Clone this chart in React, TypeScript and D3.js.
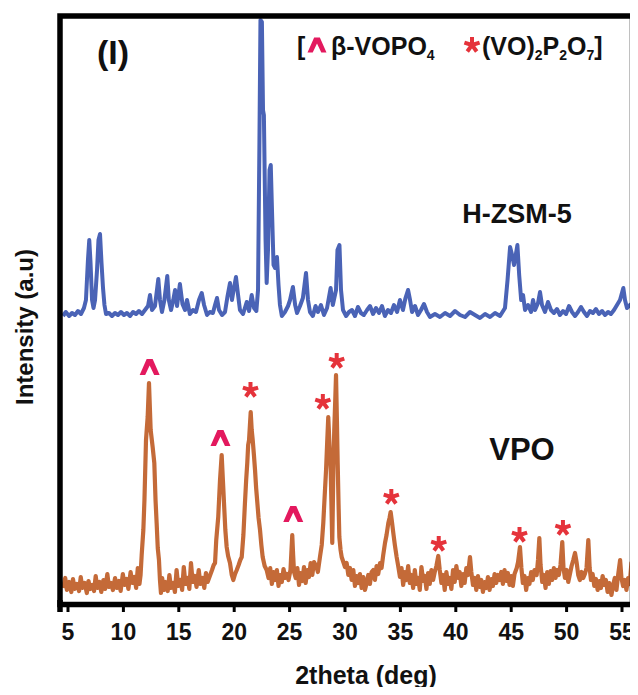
import React, { useEffect, useRef } from 'react';
import * as d3 from 'd3';

// 2theta ticks
const xTicks = [5, 10, 15, 20, 25, 30, 35, 40, 45, 50, 55];

// H-ZSM-5 pattern [2theta, intensity], drawn shifted up by zsmOffset
const zsmOffset = 552;
const zsm5: [number, number][] = [
  [4.55, 20], [4.8, 28], [5.1, 20], [5.36, 26], [5.63, 22], [5.9, 30], [6.17, 24], [6.44, 36],
  [6.62, 52], [6.8, 132], [6.92, 172], [7.03, 128], [7.17, 52], [7.3, 36], [7.44, 52], [7.62, 112],
  [7.75, 172], [7.89, 184], [8.02, 128], [8.16, 76], [8.29, 42], [8.43, 24], [8.7, 26], [8.97, 20],
  [9.24, 26], [9.51, 22], [9.78, 28], [10.05, 22], [10.32, 26], [10.6, 20], [10.87, 28], [11.14, 24],
  [11.4, 30], [11.68, 24], [11.95, 32], [12.22, 40], [12.4, 62], [12.58, 32], [12.85, 40], [13.15, 94],
  [13.3, 52], [13.48, 28], [13.7, 52], [13.96, 100], [14.1, 52], [14.3, 32], [14.5, 52], [14.66, 72],
  [14.84, 40], [15.1, 84], [15.33, 44], [15.56, 32], [15.74, 52], [16.0, 24], [16.28, 32], [16.55, 28],
  [16.82, 52], [17.07, 66], [17.28, 42], [17.55, 22], [17.8, 28], [18.08, 26], [18.27, 42], [18.45, 56],
  [18.63, 32], [18.9, 22], [19.17, 28], [19.4, 60], [19.62, 86], [19.8, 52], [19.98, 76], [20.16, 98],
  [20.35, 62], [20.52, 32], [20.8, 24], [21.13, 48], [21.34, 30], [21.58, 62], [21.79, 36], [22.0, 30],
  [22.15, 72], [22.27, 352], [22.37, 612], [22.5, 608], [22.6, 432], [22.68, 422], [22.83, 172], [22.93, 86],
  [23.05, 152], [23.19, 312], [23.3, 322], [23.41, 232], [23.55, 122], [23.68, 116], [23.86, 138], [24.0, 82],
  [24.13, 42], [24.3, 20], [24.58, 28], [24.86, 40], [25.04, 52], [25.3, 78], [25.5, 42], [25.67, 26],
  [25.94, 40], [26.2, 56], [26.48, 106], [26.66, 52], [26.84, 28], [27.1, 20], [27.34, 40], [27.56, 28],
  [27.83, 42], [28.1, 22], [28.38, 36], [28.7, 76], [28.9, 42], [29.19, 72], [29.32, 152], [29.5, 162],
  [29.64, 72], [29.82, 32], [30.1, 20], [30.36, 28], [30.63, 32], [30.9, 20], [31.17, 38], [31.44, 26],
  [31.7, 22], [31.99, 32], [32.26, 40], [32.53, 24], [32.8, 36], [33.07, 26], [33.34, 40], [33.6, 20],
  [33.88, 32], [34.15, 26], [34.42, 42], [34.7, 28], [34.96, 52], [35.23, 32], [35.46, 56], [35.69, 72],
  [35.87, 52], [36.05, 28], [36.32, 40], [36.59, 22], [36.86, 32], [37.13, 44], [37.4, 28], [37.67, 18],
  [38.12, 24], [38.57, 18], [39.03, 26], [39.48, 20], [39.93, 30], [40.38, 22], [40.83, 18], [41.28, 28],
  [41.73, 22], [42.18, 16], [42.64, 24], [43.09, 18], [43.54, 26], [43.99, 20], [44.44, 36], [44.67, 92],
  [44.9, 158], [45.08, 142], [45.26, 122], [45.56, 162], [45.72, 102], [45.9, 52], [46.07, 62], [46.25, 32],
  [46.52, 42], [46.79, 28], [46.97, 52], [47.15, 32], [47.42, 46], [47.6, 68], [47.78, 42], [48.05, 28],
  [48.32, 48], [48.59, 32], [48.86, 26], [49.13, 34], [49.4, 22], [49.68, 30], [49.95, 24], [50.22, 40],
  [50.49, 28], [50.76, 20], [51.03, 28], [51.3, 38], [51.57, 28], [51.84, 20], [52.11, 30], [52.38, 26],
  [52.65, 34], [52.92, 24], [53.2, 30], [53.47, 22], [53.74, 28], [54.0, 24], [54.28, 32], [54.55, 42],
  [54.82, 52], [55.12, 76], [55.27, 52], [55.45, 36], [55.72, 42], [56.0, 46],
];

// VPO pattern [2theta, intensity]
const vpo: [number, number][] = [
  [4.55, 28], [4.75, 48], [4.9, 24], [5.1, 40], [5.3, 20], [5.45, 46], [5.6, 26], [5.8, 36],
  [6.0, 22], [6.15, 50], [6.3, 28], [6.5, 38], [6.7, 18], [6.85, 42], [7.0, 26], [7.2, 34],
  [7.35, 22], [7.5, 52], [7.65, 28], [7.85, 40], [8.0, 20], [8.2, 44], [8.35, 26], [8.55, 56],
  [8.7, 30], [8.9, 38], [9.05, 24], [9.25, 48], [9.4, 28], [9.6, 42], [9.75, 22], [9.95, 56],
  [10.1, 34], [10.3, 46], [10.45, 26], [10.65, 60], [10.8, 38], [11.0, 50], [11.15, 28], [11.3, 68],
  [11.45, 36], [11.55, 54], [11.65, 94], [11.8, 144], [11.9, 204], [12.04, 324], [12.19, 370], [12.31, 438],
  [12.46, 344], [12.64, 310], [12.79, 278], [12.9, 204], [13.0, 158], [13.1, 108], [13.21, 84], [13.3, 44],
  [13.39, 18], [13.5, 48], [13.65, 24], [13.8, 40], [14.0, 22], [14.15, 54], [14.3, 28], [14.5, 38],
  [14.65, 20], [14.8, 64], [14.95, 32], [15.15, 44], [15.3, 24], [15.45, 70], [15.6, 36], [15.8, 48],
  [15.95, 26], [16.1, 78], [16.25, 40], [16.45, 52], [16.6, 30], [16.8, 64], [16.95, 36], [17.15, 48],
  [17.3, 28], [17.45, 58], [17.6, 40], [17.8, 52], [18.0, 64], [18.15, 74], [18.27, 78], [18.38, 124],
  [18.56, 170], [18.72, 244], [18.87, 294], [18.98, 244], [19.08, 198], [19.2, 144], [19.32, 110], [19.45, 92],
  [19.62, 78], [19.78, 54], [19.92, 44], [20.08, 56], [20.23, 64], [20.4, 74], [20.55, 84], [20.68, 90],
  [20.83, 134], [20.97, 198], [21.08, 244], [21.18, 278], [21.26, 314], [21.34, 324], [21.42, 354], [21.49, 380],
  [21.58, 344], [21.67, 324], [21.78, 294], [21.88, 264], [21.98, 228], [22.09, 198], [22.2, 168], [22.33, 144],
  [22.45, 114], [22.57, 90], [22.75, 72], [22.93, 64], [23.1, 48], [23.25, 68], [23.4, 36], [23.55, 60],
  [23.7, 44], [23.85, 64], [24.0, 32], [24.15, 54], [24.3, 40], [24.45, 66], [24.6, 48], [24.75, 56],
  [24.9, 44], [25.08, 64], [25.17, 104], [25.24, 134], [25.32, 94], [25.4, 60], [25.55, 48], [25.7, 68],
  [25.85, 34], [26.0, 58], [26.15, 42], [26.3, 70], [26.45, 38], [26.6, 64], [26.75, 50], [26.9, 78],
  [27.05, 54], [27.2, 80], [27.4, 72], [27.55, 60], [27.74, 90], [27.9, 114], [28.04, 158], [28.17, 214],
  [28.29, 264], [28.4, 324], [28.49, 370], [28.6, 314], [28.71, 264], [28.85, 118], [28.95, 264], [29.03, 344],
  [29.12, 404], [29.19, 454], [29.27, 364], [29.34, 278], [29.42, 194], [29.49, 130], [29.6, 104], [29.7, 90],
  [29.85, 80], [30.0, 70], [30.15, 78], [30.3, 54], [30.45, 68], [30.6, 44], [30.75, 64], [30.9, 32],
  [31.05, 52], [31.2, 38], [31.35, 56], [31.5, 28], [31.65, 50], [31.8, 24], [31.96, 38], [32.1, 54],
  [32.25, 36], [32.4, 60], [32.55, 64], [32.7, 44], [32.85, 72], [33.0, 56], [33.16, 78], [33.3, 68],
  [33.45, 94], [33.61, 118], [33.75, 134], [33.91, 158], [34.02, 168], [34.12, 180], [34.24, 160], [34.36, 138],
  [34.5, 114], [34.66, 90], [34.8, 72], [34.96, 50], [35.1, 68], [35.25, 34], [35.4, 60], [35.55, 44],
  [35.7, 72], [35.85, 38], [36.0, 54], [36.15, 28], [36.3, 64], [36.45, 36], [36.6, 48], [36.75, 24],
  [36.9, 70], [37.05, 42], [37.2, 52], [37.35, 26], [37.5, 58], [37.65, 36], [37.8, 64], [37.95, 44],
  [38.1, 60], [38.25, 72], [38.42, 92], [38.55, 64], [38.7, 38], [38.85, 54], [39.0, 24], [39.15, 60],
  [39.3, 36], [39.45, 48], [39.6, 26], [39.75, 64], [39.9, 40], [40.05, 72], [40.2, 48], [40.35, 60],
  [40.5, 32], [40.65, 56], [40.8, 38], [40.95, 68], [41.1, 54], [41.28, 90], [41.4, 60], [41.55, 34],
  [41.7, 48], [41.85, 24], [42.0, 52], [42.15, 30], [42.3, 44], [42.45, 20], [42.6, 40], [42.75, 28],
  [42.9, 50], [43.05, 24], [43.2, 46], [43.35, 32], [43.5, 56], [43.65, 38], [43.8, 54], [43.95, 44],
  [44.1, 60], [44.25, 36], [44.4, 64], [44.55, 42], [44.7, 58], [44.85, 34], [45.0, 52], [45.15, 32],
  [45.3, 56], [45.5, 68], [45.62, 80], [45.79, 110], [45.92, 68], [46.05, 38], [46.2, 52], [46.35, 24],
  [46.5, 48], [46.65, 36], [46.8, 60], [46.95, 44], [47.1, 64], [47.3, 54], [47.42, 84], [47.54, 128],
  [47.65, 74], [47.8, 40], [47.95, 54], [48.1, 28], [48.25, 60], [48.4, 36], [48.55, 62], [48.7, 44],
  [48.85, 68], [49.0, 48], [49.15, 64], [49.3, 54], [49.45, 74], [49.61, 120], [49.72, 68], [49.85, 48],
  [50.0, 64], [50.15, 40], [50.3, 56], [50.45, 72], [50.6, 84], [50.76, 98], [50.9, 80], [51.05, 54],
  [51.2, 44], [51.35, 60], [51.5, 48], [51.65, 56], [51.8, 68], [51.96, 124], [52.08, 68], [52.2, 44],
  [52.35, 56], [52.5, 32], [52.65, 46], [52.8, 24], [52.95, 42], [53.1, 28], [53.25, 52], [53.4, 34],
  [53.55, 44], [53.7, 20], [53.85, 38], [54.05, 14], [54.2, 34], [54.35, 48], [54.5, 24], [54.65, 54],
  [54.83, 84], [54.95, 48], [55.1, 32], [55.25, 44], [55.4, 24], [55.55, 48], [55.7, 36], [55.85, 78],
  [56.0, 54],
];

// peak assignments on the VPO pattern [2theta, marker height]
const vopoPeaks: [number, number][] = [[12.37, 470], [18.76, 328], [25.33, 176]];
const pyroPeaks: [number, number][] = [
  [21.47, 424], [28.0, 400], [29.25, 482], [34.18, 210], [38.46, 116], [45.75, 134], [49.67, 148],
];

const FONT = '"Liberation Sans", Arial, Helvetica, sans-serif';
const BLUE = '#4a63b6';
const ORANGE = '#c46a38';
const CARET = '#e3195e';
const STAR = '#e5333b';

const caretPath = 'M-10,8 L-3,-8 L3,-8 L10,8 L4.5,8 L0,-1.5 L-4.5,8 Z';
const starPath = [-90, -18, 54, 126, 198]
  .map(a => `M0,0 L${(8 * Math.cos((a * Math.PI) / 180)).toFixed(2)},${(8 * Math.sin((a * Math.PI) / 180)).toFixed(2)}`)
  .join(' ');

const XrdChart = () => {
  const svgRef = useRef<SVGSVGElement>(null);

  useEffect(() => {
    const svg = d3.select(svgRef.current);
    svg.selectAll('*').remove();

    const x = d3.scaleLinear().domain([5, 55]).range([68, 622]);
    const y = d3.scaleLinear().domain([0, 1166]).range([602, 19]);

    svg.append('defs').append('clipPath').attr('id', 'plot-clip')
      .append('rect').attr('x', 60).attr('y', 16).attr('width', 572).attr('height', 588);

    const plot = svg.append('g').attr('clip-path', 'url(#plot-clip)');

    const line = (offset: number) => d3.line<[number, number]>()
      .x(d => x(d[0]))
      .y(d => y(d[1] + offset));

    plot.append('path')
      .datum(vpo)
      .attr('fill', 'none')
      .attr('stroke', ORANGE)
      .attr('stroke-width', 4.2)
      .attr('stroke-linejoin', 'round')
      .attr('d', line(0));

    plot.append('path')
      .datum(zsm5)
      .attr('fill', 'none')
      .attr('stroke', BLUE)
      .attr('stroke-width', 4)
      .attr('stroke-linejoin', 'round')
      .attr('d', line(zsmOffset));

    // peak markers
    svg.append('g').selectAll('path')
      .data(vopoPeaks)
      .join('path')
      .attr('transform', d => `translate(${x(d[0])},${y(d[1])})`)
      .attr('d', caretPath)
      .attr('fill', CARET);

    svg.append('g').selectAll('path')
      .data(pyroPeaks)
      .join('path')
      .attr('transform', d => `translate(${x(d[0])},${y(d[1])})`)
      .attr('d', starPath)
      .attr('stroke', STAR)
      .attr('stroke-width', 4)
      .attr('fill', 'none');

    // frame
    svg.append('rect')
      .attr('x', 60).attr('y', 16).attr('width', 572.5).attr('height', 588.5)
      .attr('fill', 'none').attr('stroke', '#000').attr('stroke-width', 5.5);
    svg.append('line')
      .attr('x1', 60).attr('x2', 60).attr('y1', 600).attr('y2', 612)
      .attr('stroke', '#000').attr('stroke-width', 5.5);

    // x axis ticks and labels
    const ax = svg.append('g');
    ax.selectAll('line')
      .data(xTicks)
      .join('line')
      .attr('x1', d => x(d)).attr('x2', d => x(d))
      .attr('y1', 606).attr('y2', 612)
      .attr('stroke', '#000').attr('stroke-width', 3);
    ax.selectAll('text')
      .data(xTicks)
      .join('text')
      .attr('x', d => x(d))
      .attr('y', 640)
      .attr('text-anchor', 'middle')
      .attr('font-family', FONT)
      .attr('font-weight', 'bold')
      .attr('font-size', 23)
      .attr('fill', '#111')
      .text(d => d);

    const label = (tx: number, ty: number, size: number, str: string) =>
      svg.append('text')
        .attr('x', tx).attr('y', ty)
        .attr('text-anchor', 'middle')
        .attr('font-family', FONT)
        .attr('font-weight', 'bold')
        .attr('font-size', size)
        .attr('fill', '#111')
        .text(str);

    label(366, 684, 25, '2theta (deg)');
    label(0, 0, 24, 'Intensity (a.u)')
      .attr('transform', 'translate(33,327) rotate(-90)');

    label(113, 64, 34, '(I)');
    label(517, 223, 27, 'H-ZSM-5');
    label(522, 460, 31, 'VPO');

    // legend
    const lg = svg.append('g')
      .attr('font-family', FONT)
      .attr('font-weight', 'bold')
      .attr('fill', '#111');
    lg.append('text').attr('x', 297).attr('y', 55).attr('font-size', 25).text('[');
    lg.append('path').attr('d', caretPath).attr('fill', CARET)
      .attr('transform', 'translate(317,45) scale(0.95)');
    const t1 = lg.append('text').attr('x', 331).attr('y', 55).attr('font-size', 25);
    t1.append('tspan').text('β-VOPO');
    t1.append('tspan').attr('font-size', 14).attr('dy', 5).text('4');
    lg.append('path').attr('d', starPath).attr('stroke', STAR).attr('stroke-width', 4)
      .attr('fill', 'none').attr('transform', 'translate(472,45)');
    const t2 = lg.append('text').attr('x', 482).attr('y', 55).attr('font-size', 25);
    const parts: [string, boolean][] = [
      ['(VO)', false], ['2', true], ['P', false], ['2', true], ['O', false], ['7', true], [']', false],
    ];
    parts.forEach(([s, sub]) => {
      t2.append('tspan')
        .attr('font-size', sub ? 14 : 25)
        .attr('dy', sub ? 5 : -5)
        .text(s);
    });
    t2.select('tspan').attr('dy', 0);
  }, []);

  return <svg ref={svgRef} width={638} height={695} style={{ display: 'block' }} />;
};

export default function App() {
  return (
    <div style={{ margin: -8, background: '#fff' }}>
      <XrdChart />
    </div>
  );
}
